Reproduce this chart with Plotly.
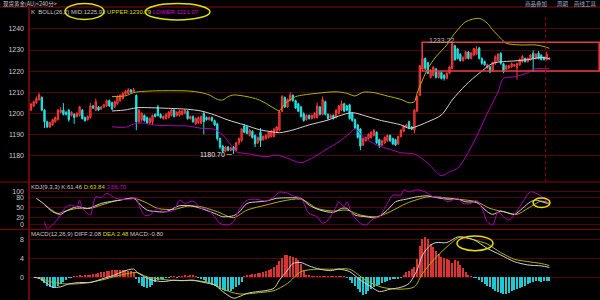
import plotly.graph_objects as go

W, H = 600, 300

# ---------------- data ----------------
open_ = [1201.5, 1203.5, 1205, 1206.5, 1207.5, 1201.5, 1196, 1193.5, 1194.5, 1196,
         1197, 1200.5, 1201.5, 1200.5, 1201.5, 1199, 1199.5, 1198.5, 1199, 1201.5,
         1198, 1197, 1198, 1203.5, 1201.5, 1203, 1202, 1203, 1203.5, 1206,
         1205, 1203, 1204.5, 1206, 1207, 1209, 1209.5, 1211, 1210.2, 1208.5,
         1196, 1197, 1199, 1198, 1195.5, 1196, 1199.5, 1203, 1199.5, 1197.5,
         1197.5, 1198, 1199, 1201.5, 1199, 1199, 1199.5, 1200, 1201, 1197.5,
         1198.5, 1195, 1195.5, 1195.3, 1200, 1198, 1197, 1198, 1196.5, 1195,
         1188, 1184.5, 1182, 1184, 1182.5, 1184, 1182.5, 1186, 1187, 1194,
         1193.5, 1189.5, 1191.5, 1189.5, 1186, 1191, 1187.5, 1188, 1188.5, 1189,
         1189, 1191.5, 1192, 1201, 1207.5, 1203, 1206, 1208.5, 1206, 1204.5,
         1203, 1199.8, 1197, 1199, 1197.5, 1198, 1198, 1203, 1199.5, 1205.5,
         1199.5, 1198, 1199, 1198, 1200, 1201.5, 1204.5, 1203.5, 1204, 1200,
         1197, 1194.5, 1192.5, 1185, 1187, 1188, 1188.5, 1189.5, 1191, 1187.5,
         1185, 1186, 1187, 1189.5, 1188, 1187.5, 1185.5, 1189, 1191.5, 1193.5,
         1196, 1193.5, 1192, 1201, 1208.5, 1221, 1226, 1224, 1217, 1218,
         1221, 1217, 1219.3, 1218, 1216.6, 1219, 1221.3, 1232, 1230.5, 1228,
         1225, 1226, 1229, 1226, 1227.6, 1228, 1231, 1226, 1224.5, 1221.5,
         1222, 1220, 1223.7, 1225, 1228.4, 1223.5, 1221, 1221.5, 1222, 1222.5,
         1221.5, 1223, 1224.5, 1226, 1224.5, 1225.5, 1228.5, 1226, 1228.5, 1227.5,
         1226.5, 1225.5, 1225.5]
high = [1205, 1206, 1208, 1209.8, 1208, 1202, 1196.5, 1196, 1197.5, 1198.5,
        1202, 1203, 1204.8, 1201, 1202, 1201, 1200, 1200.5, 1203.5, 1202,
        1198.5, 1199, 1205, 1204, 1207, 1203.5, 1203.5, 1204.5, 1206.5, 1206.5,
        1205.5, 1206, 1208.5, 1209, 1210, 1211, 1212, 1211.5, 1212, 1209,
        1202, 1200.5, 1199.5, 1198.5, 1198, 1199.5, 1200, 1204, 1200, 1199,
        1200, 1201, 1202, 1202, 1201, 1201.5, 1201.5, 1202, 1201.5, 1199,
        1199, 1198, 1198.5, 1199, 1201, 1198.5, 1198.5, 1198.5, 1197, 1195.5,
        1188.5, 1185, 1184.5, 1184.5, 1184, 1184.5, 1186.5, 1188.5, 1193, 1195,
        1194, 1192.5, 1192, 1190, 1189, 1193, 1189.5, 1190, 1191.5, 1192,
        1193, 1194, 1201.5, 1208.7, 1208, 1207, 1210, 1209, 1206.5, 1205,
        1203.5, 1200.5, 1199.5, 1199.5, 1199.5, 1200.5, 1205, 1203.5, 1208, 1206,
        1200, 1199.5, 1199.5, 1202, 1204, 1206, 1205, 1204, 1204.5, 1200.5,
        1197.5, 1195, 1193, 1188.5, 1189, 1190.5, 1191.5, 1192.5, 1191.5, 1188,
        1187.5, 1189, 1190, 1190, 1188.5, 1188, 1189.5, 1192.5, 1194.5, 1195,
        1196.5, 1194, 1202, 1208.5, 1223, 1229, 1226.5, 1224.5, 1221, 1222.5,
        1221.5, 1220, 1220, 1218.5, 1219.5, 1222.5, 1233.22, 1232.5, 1231, 1228.5,
        1227, 1229.5, 1229.5, 1229, 1231, 1231.8, 1231.5, 1226.5, 1225, 1223.5,
        1222.5, 1224.5, 1227.5, 1228.5, 1229, 1224, 1223, 1223, 1224, 1223.5,
        1224, 1226, 1227.5, 1226.5, 1226.5, 1228, 1229.8, 1228.5, 1229.5, 1228,
        1227, 1229.2, 1226.5]
low = [1201, 1203, 1204.5, 1206, 1201, 1193, 1193, 1193, 1194, 1195.5,
       1196.5, 1200, 1199, 1199, 1196, 1198.5, 1195, 1198, 1198.5, 1197,
       1196, 1196.5, 1197.5, 1202, 1201, 1201, 1201.5, 1202.5, 1203, 1203,
       1201.5, 1202.5, 1204, 1205.5, 1206.5, 1208.5, 1209, 1209.5, 1209.8, 1192,
       1195, 1196, 1196, 1195, 1195, 1194.5, 1198, 1198.5, 1197.5, 1197,
       1197, 1197.5, 1198.5, 1198, 1198.5, 1198.5, 1199, 1199.5, 1197, 1197,
       1195.5, 1194.5, 1195, 1195, 1190, 1196.5, 1196.5, 1196, 1194, 1187,
       1183, 1181.5, 1181.5, 1182, 1182, 1180.7, 1182, 1185, 1186.5, 1190.5,
       1190, 1189, 1188, 1184, 1185.5, 1184, 1187, 1187.5, 1188, 1188.5,
       1188.5, 1191, 1191.5, 1200.5, 1202.5, 1202.5, 1205.5, 1205.5, 1202, 1200.5,
       1198, 1196, 1196.5, 1197, 1197, 1197.5, 1197.5, 1199, 1199, 1199,
       1197, 1197.5, 1197, 1197.5, 1199.5, 1201, 1200.5, 1201, 1197, 1196,
       1192.5, 1188, 1182.5, 1184.5, 1186.5, 1187.5, 1188, 1189, 1185.5, 1183.5,
       1184.5, 1185.5, 1186.5, 1186.5, 1185, 1184.5, 1185, 1188.5, 1191, 1193,
       1192.5, 1192, 1190.5, 1200.5, 1208, 1220.5, 1220.5, 1218.5, 1216.5, 1217.5,
       1216.5, 1216.5, 1216, 1215.5, 1216, 1218.5, 1221, 1225, 1225.5, 1224.5,
       1224.5, 1225.5, 1225.5, 1225.5, 1227, 1227.5, 1225.5, 1223, 1222.5, 1221,
       1219, 1219.5, 1223, 1224.5, 1223, 1219, 1220.5, 1221, 1221.5, 1222,
       1216, 1222.5, 1224, 1224, 1224, 1225, 1219.6, 1225.5, 1225.5, 1225,
       1225, 1225, 1225.3]
close = [1204.4, 1205.5, 1207, 1208.7, 1201.5, 1196, 1193.5, 1195.7, 1197, 1198,
         1201.5, 1201.5, 1199.5, 1199.5, 1197, 1200.5, 1198, 1200, 1203, 1197.5,
         1196.5, 1198.5, 1203.5, 1202.5, 1205.5, 1201.5, 1203, 1204, 1206, 1203.5,
         1202, 1205.5, 1208, 1208.5, 1209.5, 1210.5, 1211, 1210, 1211.2, 1196,
         1201.5, 1200, 1196.5, 1195.5, 1197.5, 1199, 1198.5, 1199, 1198, 1198.5,
         1199.5, 1200.5, 1201.5, 1198.5, 1200.5, 1201, 1201, 1201.5, 1197.5, 1198.5,
         1196, 1197.5, 1198, 1198.4, 1196, 1197, 1198, 1196.5, 1194.5, 1188,
         1184, 1182, 1184, 1182.5, 1183.5, 1182.5, 1186, 1188, 1192.5, 1191,
         1190.5, 1192, 1188.5, 1185.5, 1188.5, 1187, 1189, 1189.5, 1191, 1191.5,
         1192.5, 1193.5, 1200.8, 1208, 1203, 1206.5, 1208.5, 1206, 1202.5, 1201,
         1198.5, 1196.6, 1199, 1197.5, 1199, 1200, 1203.5, 1199.5, 1206.5, 1199.5,
         1197.5, 1199, 1197.5, 1201.5, 1203.5, 1204.5, 1201, 1201.5, 1197.5, 1196.6,
         1193, 1188.6, 1184.5, 1188, 1188.5, 1190, 1191, 1192, 1186, 1184.5,
         1187, 1188.5, 1189.5, 1187, 1185.5, 1185, 1189, 1192, 1194, 1194.5,
         1193, 1192.5, 1201.5, 1208, 1222.5, 1226, 1221.3, 1219, 1220.5, 1221.8,
         1217, 1219.5, 1216.5, 1216.6, 1219, 1222, 1233, 1225.3, 1226, 1225,
         1226.5, 1229, 1226, 1228.5, 1230.7, 1230.5, 1226, 1223.7, 1223, 1223,
         1219.6, 1224, 1226.9, 1228, 1223.7, 1219.6, 1222.5, 1222.5, 1223.5, 1223,
         1223.5, 1225.5, 1227, 1224.5, 1226, 1227.6, 1226, 1228, 1226, 1225.5,
         1225.5, 1228, 1226]
bars = list(range(len(close)))

# Bollinger bands (26,2), sampled at bar indexes
upper_bar = [30, 35, 38, 40, 45, 50, 58, 63, 66, 69, 71, 73, 75, 80, 84, 87, 90, 92, 93, 95,
             98, 101, 106, 113, 117, 120, 123, 127, 132, 137, 140, 142, 143, 145, 147, 150,
             154, 156, 158, 161, 166, 169, 171, 174, 176, 181, 187, 190, 192]
upper_val = [1207.9, 1208.3, 1209.8, 1210.2, 1210.6, 1210.7, 1210.6, 1209.8, 1208.7, 1206.6,
             1206.3, 1207.9, 1208.7, 1207.9, 1206.6, 1204.7, 1202.4, 1201.2, 1202.8, 1205.5,
             1207.9, 1208.7, 1209.5, 1210.2, 1209.5, 1208.2, 1210, 1209.8, 1208.2, 1206.6,
             1205, 1205.5, 1209.5, 1215.8, 1221.3, 1226.8, 1232.4, 1236.3, 1239.5, 1243.4,
             1245, 1242.7, 1239.5, 1235.5, 1233.2, 1232.4, 1232.4, 1231.6, 1230.79]
mid_bar = [30, 35, 38, 40, 50, 58, 63, 68, 73, 79, 85, 89, 92, 97, 103, 110, 114, 119, 124,
           129, 137, 140, 142, 147, 152, 156, 161, 166, 171, 175, 180, 185, 189, 192]
mid_val = [1201.1, 1201.6, 1202.4, 1202.7, 1202.4, 1201.9, 1201.1, 1199.2, 1196.8, 1194.5,
           1192.1, 1191.3, 1190.8, 1192.1, 1194.5, 1196.8, 1198.7, 1200.3, 1198.7, 1196.8,
           1194.5, 1192.9, 1193.4, 1196, 1199.2, 1206.3, 1213.4, 1219, 1223.7, 1224.5,
           1224.9, 1225.6, 1226.5, 1225.93]
lower_bar = [30, 35, 39, 42, 45, 53, 58, 63, 68, 71, 74, 76, 81, 87, 91, 95, 100, 105, 110,
             114, 118, 120, 123, 128, 133, 137, 142, 147, 152, 155, 158, 161, 165, 169, 173,
             175, 179, 184, 186, 192]
lower_val = [1193.6, 1193.4, 1195.3, 1195.3, 1194.5, 1194.1, 1194, 1192.9, 1192.4, 1189.7,
             1185, 1181.8, 1180.7, 1179.4, 1180.2, 1178.7, 1176.6, 1179.4, 1183.4, 1186.5,
             1190.5, 1192.6, 1188.9, 1185, 1182.9, 1181.3, 1180.7, 1176.3, 1170.4, 1172.3,
             1173.9, 1179.4, 1188.9, 1200, 1210.2, 1216.6, 1217.3, 1219.2, 1220.9, 1221.07]

# KDJ (9,3,3)
k_bar = [2, 5, 8, 11, 13, 17, 21, 23, 26, 29, 33, 38, 40, 43, 47, 50, 55, 59, 63, 68,
         71, 75, 77, 80, 84, 87, 91, 96, 100, 103, 107, 112, 115, 117, 120, 124, 128, 132,
         135, 139, 143, 147, 150, 154, 158, 161, 165, 169, 171, 174, 176, 179, 182, 185,
         187, 190, 192]
k_val = [78.5, 60, 38, 30, 40, 53, 48, 53, 63, 68, 73, 78.5, 63, 43, 38, 38, 56, 56, 48, 33,
         23, 26, 36, 63, 68, 70, 78.5, 80, 78.5, 58, 43, 36, 48, 48, 28, 23, 20, 43, 68, 76,
         83, 86, 81, 76, 76, 68, 66, 38, 30, 40, 36, 30, 48, 68, 73, 66, 61.46]
d_bar = [5, 10, 12, 17, 22, 26, 31, 38, 42, 47, 53, 58, 63, 69, 75, 80, 87, 93, 100, 106,
         112, 117, 122, 128, 133, 139, 147, 152, 158, 165, 170, 176, 180, 184, 189, 192]
d_val = [58, 33, 38, 48, 48, 58, 70, 78.5, 68, 48, 45, 55, 53, 38, 20, 43, 58, 70, 76, 48,
         40, 43, 28, 23, 38, 63, 83, 81, 76, 68, 48, 36, 30, 48, 70, 63.84]
j_bar = [5, 6, 8, 11, 13, 15, 17, 18, 19, 21, 22, 24, 26, 28, 31, 33, 37, 39, 40, 42, 44,
         47, 49, 53, 55, 57, 60, 63, 65, 68, 70, 73, 75, 77, 80, 84, 87, 90, 92, 95, 97,
         100, 103, 106, 108, 110, 112, 113, 114, 116, 117, 119, 122, 124, 127, 129, 132,
         134, 137, 138, 140, 143, 146, 149, 152, 154, 158, 160, 163, 165, 167, 169, 171,
         173, 175, 177, 179, 181, 185, 187, 190, 192]
j_val = [8, -12, -2, 28, 53, 58, 53, 73, 48, 33, 28, 83, 80, 94, 80, 76, 76, 80, 58, 28, 28,
         48, 38, 43, 73, 63, 70, 48, 48, 23, 3, -2, 8, 43, 73, 75, 70, 83, 97, 94, 86,
         78.5, 33, 23, 3, 13, 38, 53, 68, 53, 68, 30, 3, -2, 18, 23, 63,
         88, 88, 104, 98, 104, 98, 83, 83, 68, 78.5, 63, 63, 73, 48, 8, -2,
         38, 23, 13, 28, 53, 98, 94, 78.5, 56.7]

# MACD (12,26,9)
diff_bar = [1, 3, 6, 8, 11, 14, 18, 22, 26, 31, 34, 38, 39, 42, 45, 49, 53, 56, 60, 64,
            68, 71, 75, 77, 80, 84, 87, 90, 92, 95, 97, 100, 103, 107, 111, 114, 118, 122,
            126, 129, 133, 137, 140, 143, 145, 148, 150, 154, 158, 160, 164, 169, 174, 179,
            184, 189, 192]
diff_val = [0, -0.2, -1.3, -2.1, -2.0, -1.4, -1.1, -1.1, -0.4, 0.5, 1.2, 1.75, 1.2, 0.1,
            -0.6, -0.9, -0.6, -0.7, -0.6, -1.1, -1.6, -3.0, -4.4, -4.1, -3.4, -3.0, -2.8,
            -2.3, -0.6, 1.5, 2.9, 3.1, 2.4, 1.7, 1.4, 1.7, 1.2, -0.6, -2.0, -3.0, -2.5, -2.1,
            -1.3, 1.5, 4.7, 6.8, 7.3, 7.3, 8.5, 8.4, 7.9, 6.1, 4.7, 3.3, 2.6, 2.4, 2.08]
dea_bar = [3, 7, 13, 19, 26, 32, 39, 43, 48, 54, 60, 66, 72, 77, 85, 90, 95, 100, 106, 112,
           118, 124, 130, 137, 142, 145, 149, 154, 159, 164, 169, 174, 179, 184, 189, 192]
dea_val = [0, -0.9, -1.4, -1.3, -0.6, 0.3, 1.0, 0.1, -0.4, -0.7, -0.7, -1.1, -2.7, -3.5,
           -3.2, -2.8, -1.3, 1.2, 1.7, 1.7, 1.7, -0.6, -2.1, -2.5, -2.0, 0.8, 3.6, 6.4, 8.5,
           7.9, 7.0, 5.2, 3.8, 3.3, 2.9, 2.48]
macd_hist = [0, 0, 0, -0.3, -0.8, -1.3, -1.8, -2.2, -2.3, -2.1,
             -1.8, -1.4, -1.0, -0.6, -0.2, -0.1, 0.1, 0.2, 0.3, 0.2,
             0.3, 0.4, 0.5, 0.6, 0.7, 0.9, 1.0, 1.1, 1.2, 1.3,
             1.4, 1.5, 1.4, 1.5, 1.5, 1.4, 1.3, 1.2, 1.0, -0.5,
             -1.2, -1.8, -2.2, -2.3, -2.0, -1.6, -1.0, -0.6, -0.4, -0.3,
             -0.2, -0.1, 0.1, 0.1, -0.1, 0.1, 0.2, 0.3, 0.2, 0.4,
             0.3, 0.1, -0.2, -0.4, -0.7, -1.0, -1.3, -1.6, -1.9, -2.2,
             -2.5, -2.7, -2.9, -3.0, -2.9, -2.6, -2.2, -1.6, -1.0, 0.2,
             0.4, 0.5, 0.6, 0.7, 0.8, 0.9, 1.0, 1.2, 1.4, 1.7,
             2.1, 2.6, 3.3, 4.0, 4.6, 4.7, 4.5, 4.2, 4.0, 3.5,
             2.8, 1.5, 0.5, 0.3, 0.2, 0.1, 0.2, 0.1, 0.2, 0.1,
             0.2, 0.1, 0.1, 0.2, 0.1, 0.1, 0.1, -0.2, -0.6, -1.2,
             -1.8, -2.5, -3.2, -3.7, -3.5, -3.0, -2.6, -2.2, -1.9, -1.6,
             -1.3, -1.0, -0.8, -0.6, -0.5, -0.3, -0.3, -0.2, 0.5, 1.0,
             1.2, 1.6, 2.2, 3.8, 6.6, 8.0, 8.4, 7.9, 7.0, 6.3,
             5.5, 4.8, 4.3, 4.0, 3.8, 3.6, 2.9, 3.6, 3.3, 2.5,
             1.8, 1.0, 0.5, 0.2, -0.1, -0.2, -0.6, -1.0, -1.4, -1.8,
             -2.2, -2.6, -2.9, -3.2, -3.4, -3.5, -3.5, -3.3, -3.0, -2.8,
             -2.6, -2.3, -2.0, -1.8, -1.5, -1.2, -1.0, -0.9, -0.9, -1.0,
             -0.9, -0.8, -0.8]

price_ticks = [1180, 1190, 1200, 1210, 1220, 1230, 1240]
kdj_ticks = [0, 20, 50, 80, 100]
macd_ticks = [0, 4, 8]

title_text = "现货黄金(AU)<240分>"
menu_texts = ["商品叠加", "周期", "画线工具"]
low_mark = (75, 1180.70)
high_mark = (156, 1233.22)
box_from_bar, box_low, box_high = 144.9, 1220.05, 1233.65
cursor_bar = 190.6

# ---------------- styling ----------------
BG = "#000000"
GRID = "#4e0606"
SEP = "#8c0c0c"
TXT = "#c8c8c8"
WHITE_L = "#d2d2d2"
YEL = "#b4b400"
YEL_T = "#d8d800"
MAG = "#b000b8"
MAG_T = "#d000d8"
UP = "#ff3c3c"
UP_FILL = "#8c1c1c"
DN = "#22e2e2"
FONT = "Liberation Sans"

# pixel layout
X0_PX = 29
PRICE_TOP, PRICE_BOT = 7, 182
KDJ_BOT = 229.3
BAR_PX, FIRST_PX = 2.7, 31


def pyp(y):
    return 1 - y / H


x_range = [(X0_PX - FIRST_PX) / BAR_PX, (W - FIRST_PX) / BAR_PX]

fig = go.Figure()

fig.add_trace(go.Candlestick(
    x=bars, open=open_, high=high, low=low, close=close,
    increasing=dict(line=dict(color=UP, width=1), fillcolor=UP_FILL),
    decreasing=dict(line=dict(color=DN, width=1), fillcolor=DN),
    whiskerwidth=0, xaxis="x", yaxis="y", hoverinfo="skip", showlegend=False))

for xs, ys, col in [(upper_bar, upper_val, YEL), (mid_bar, mid_val, WHITE_L),
                    (lower_bar, lower_val, MAG)]:
    fig.add_trace(go.Scatter(x=xs, y=ys, mode="lines", yaxis="y",
                             line=dict(color=col, width=1, shape="spline", smoothing=0.8),
                             hoverinfo="skip", showlegend=False))

for xs, ys, col in [(d_bar, d_val, YEL), (k_bar, k_val, WHITE_L), (j_bar, j_val, MAG)]:
    fig.add_trace(go.Scatter(x=xs, y=ys, mode="lines", yaxis="y2",
                             line=dict(color=col, width=1, shape="spline", smoothing=0.8),
                             hoverinfo="skip", showlegend=False))

fig.add_trace(go.Bar(x=bars, y=macd_hist, yaxis="y3", width=0.4,
                     marker=dict(color=["#d83434" if v >= 0 else "#22c8d0" for v in macd_hist],
                                 line=dict(width=0)),
                     hoverinfo="skip", showlegend=False))
for xs, ys, col in [(dea_bar, dea_val, YEL), (diff_bar, diff_val, WHITE_L)]:
    fig.add_trace(go.Scatter(x=xs, y=ys, mode="lines", yaxis="y3",
                             line=dict(color=col, width=1, shape="spline", smoothing=0.8),
                             hoverinfo="skip", showlegend=False))

# axes
price_range = [1200 - (PRICE_BOT - 113.3) / 2.11, 1200 + (113.3 - PRICE_TOP) / 2.11]
kdj_range = [(224.3 - KDJ_BOT) / 0.331, (224.3 - PRICE_BOT) / 0.331]
macd_range = [(277.3 - H) / 4.75, (277.3 - KDJ_BOT) / 4.75]

yax = dict(showline=False, zeroline=False, showgrid=True, gridcolor=GRID, gridwidth=1,
           ticks="", tickfont=dict(color=TXT, size=7, family=FONT), anchor="x",
           ticklabelstandoff=4, fixedrange=True)

fig.update_layout(
    width=W, height=H, margin=dict(l=0, r=0, t=0, b=0),
    paper_bgcolor=BG, plot_bgcolor=BG, showlegend=False, bargap=0,
    boxgap=0.3,
    xaxis=dict(domain=[X0_PX / W, 1], range=x_range, visible=False,
               rangeslider=dict(visible=False), anchor="y3", fixedrange=True),
    yaxis=dict(domain=[pyp(PRICE_BOT), pyp(PRICE_TOP)], range=price_range,
               tickvals=price_ticks, **yax),
    yaxis2=dict(domain=[pyp(KDJ_BOT), pyp(PRICE_BOT)], range=kdj_range,
                tickvals=kdj_ticks, **yax),
    yaxis3=dict(domain=[0, pyp(KDJ_BOT)], range=macd_range,
                tickvals=macd_ticks, **yax),
)

shapes = []
# panel separators and left axis line
for yy in [PRICE_TOP, PRICE_BOT, KDJ_BOT]:
    shapes.append(dict(type="line", xref="paper", yref="paper", x0=0, x1=1,
                       y0=pyp(yy), y1=pyp(yy), line=dict(color=SEP, width=1)))
shapes.append(dict(type="line", xref="paper", yref="paper", x0=X0_PX / W, x1=X0_PX / W,
                   y0=0, y1=pyp(PRICE_TOP), line=dict(color=SEP, width=1.5)))
# red consolidation box
shapes.append(dict(type="rect", xref="x", yref="y", x0=box_from_bar, x1=x_range[1] - 0.3,
                   y0=box_low, y1=box_high, line=dict(color="#e43c3c", width=1.6)))
# cursor line
shapes.append(dict(type="line", xref="x", yref="y domain", x0=cursor_bar, x1=cursor_bar,
                   y0=0, y1=0.96, line=dict(color="#a00000", width=1, dash="dot")))
# hand-drawn ellipses
ELL = "#e6e000"
for (xa, xb, ya, yb) in [(65, 104, 3.5, 19.5), (145, 210, 3.5, 20),
                         (533, 550, 198, 207.5), (457, 493, 236, 250.7)]:
    shapes.append(dict(type="circle", xref="paper", yref="paper", x0=xa / W, x1=xb / W,
                       y0=pyp(yb), y1=pyp(ya), line=dict(color=ELL, width=1.5)))
fig.update_layout(shapes=shapes)


def span(text, color):
    return f"<span style='color:{color}'>{text}</span>"


def row(parts, x, y, size=6):
    return dict(text=" ".join(span(t, c) for t, c in parts), x=x / W, y=pyp(y),
                xref="paper", yref="paper", xanchor="left", yanchor="middle",
                showarrow=False, borderpad=0,
                font=dict(color=TXT, size=size, family=FONT))


ann = [
    dict(text=title_text, x=2 / W, y=1, xref="paper", yref="paper", xanchor="left",
         yanchor="top", showarrow=False, borderpad=0, yshift=1,
         font=dict(color=TXT, size=5.5, family="Noto Sans CJK SC")),
    row([("K&nbsp;", TXT), ("BOLL(26,2)", TXT), (f"MID:{mid_val[-1]:.2f}", TXT),
         (f"UPPER:{upper_val[-1]:.2f}", YEL_T), (f"LOWER:{lower_val[-1]:.2f}", MAG_T)],
        30, 12),
    row([("KDJ(9,3,3)", TXT), (f"K:{k_val[-1]:.2f}", TXT), (f"D:{d_val[-1]:.2f}", YEL_T),
         (f"J:{j_val[-1]:.2f}", MAG_T)], 30, 186.5),
    row([("MACD(12,26,9)", TXT), (f"DIFF:{diff_val[-1]:.2f}", TXT),
         (f"DEA:{dea_val[-1]:.2f}", YEL_T), (f"MACD:{macd_hist[-1]:.2f}", TXT)], 30, 234),
    dict(text=f"{low_mark[1]:.2f} ─", x=low_mark[0], y=low_mark[1], xref="x", yref="y",
         xanchor="right", yanchor="middle", showarrow=False, xshift=-1, borderpad=0,
         font=dict(color="#e6e6e6", size=7, family=FONT)),
    dict(text=f"{high_mark[1]:.2f}", x=high_mark[0] + 1, y=high_mark[1], xref="x", yref="y",
         xanchor="right", yanchor="bottom", showarrow=False, yshift=-2, borderpad=0,
         font=dict(color="#b0b0b0", size=7, family=FONT)),
]
for t, xpx, anc in zip(menu_texts, [524, 556, 598], ["left", "left", "right"]):
    ann.append(dict(text=t, x=xpx / W, y=1, xref="paper", yref="paper", xanchor=anc,
                    yanchor="top", showarrow=False, borderpad=0, yshift=1,
                    font=dict(color="#9fb2d0", size=5.5, family="Noto Sans CJK SC")))
fig.update_layout(annotations=ann)

fig.write_html("out.html")
